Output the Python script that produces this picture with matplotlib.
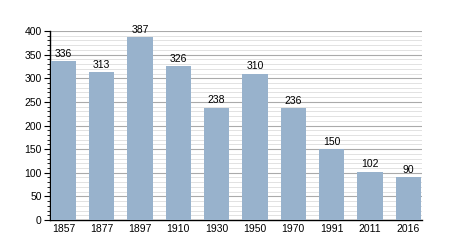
import matplotlib.pyplot as plt
from matplotlib.ticker import MultipleLocator

years = ['1857', '1877', '1897', '1910', '1930', '1950', '1970', '1991', '2011', '2016']
population = [336, 313, 387, 326, 238, 310, 236, 150, 102, 90]

plt.rcParams['font.family'] = ['Liberation Sans', 'DejaVu Sans']

fig = plt.figure(figsize=(4.5, 2.5), dpi=100)
ax = fig.add_axes([0.111, 0.12, 0.826, 0.756])

x = range(len(years))
ax.bar(x, population, width=0.66, color='#98b2cc', zorder=3)
for xi, v in zip(x, population):
    ax.text(xi, v + 5, str(v), ha='center', va='bottom', fontsize=7.5, zorder=4)

ax.set_xlim(-0.35, len(years) - 0.65)
ax.set_ylim(0, 400)
ax.set_xticks(list(x))
ax.set_xticklabels(years, fontsize=7.5)
ax.tick_params(axis='x', length=0, pad=3)
ax.yaxis.set_major_locator(MultipleLocator(50))
ax.yaxis.set_minor_locator(MultipleLocator(10))
ax.tick_params(axis='y', which='major', length=4, labelsize=7.5, pad=2)
ax.tick_params(axis='y', which='minor', length=2)
ax.grid(axis='y', which='major', color='#aaaaaa', linewidth=0.8, zorder=0)
ax.grid(axis='y', which='minor', color='#dddddd', linewidth=0.6, zorder=0)

for s in ['top', 'right']:
    ax.spines[s].set_visible(False)
ax.spines['left'].set_linewidth(1)
ax.spines['bottom'].set_linewidth(1)

fig.savefig('out.png', dpi=100)
